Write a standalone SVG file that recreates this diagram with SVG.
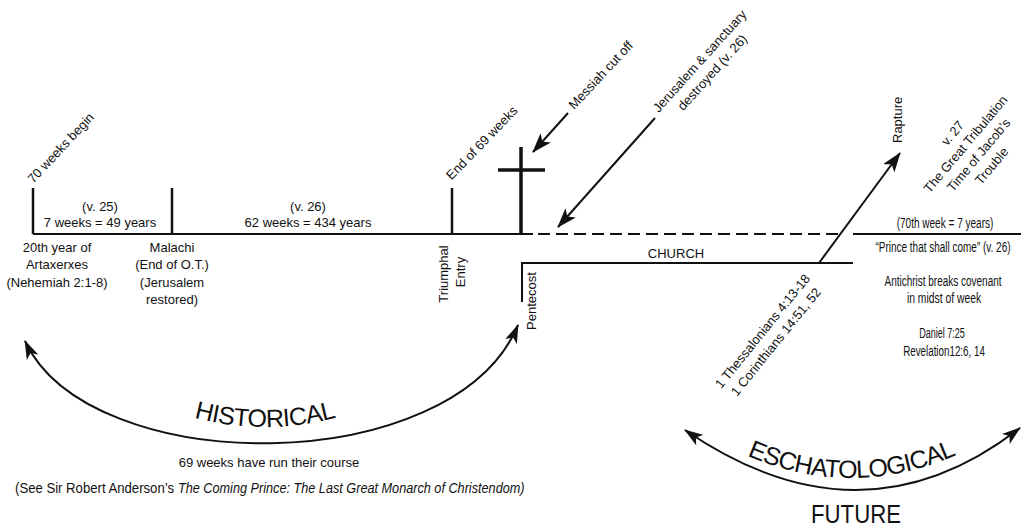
<svg xmlns="http://www.w3.org/2000/svg" width="1021" height="529" viewBox="0 0 1021 529">
<defs>
<style>
text{font-family:"Liberation Sans",Arial,sans-serif;font-size:13px;fill:#111}
.c{text-anchor:middle}
.n{font-family:"Liberation Sans Narrow","Liberation Sans",Arial,sans-serif;font-size:14px}
.big{font-size:25px}
.ln{stroke:#111;stroke-width:2;fill:none}
.tk{stroke:#111;stroke-width:2.5;fill:none}
.cr{stroke:#111;stroke-width:3.5;fill:none}
.ar{stroke:#111;stroke-width:2;fill:none;marker-end:url(#ah)}
.arc{stroke:#111;stroke-width:2;fill:none;marker-start:url(#ah2);marker-end:url(#ah2)}
</style>
<marker id="ah" viewBox="0 0 20 14" refX="19" refY="7" markerWidth="20" markerHeight="14" markerUnits="userSpaceOnUse" orient="auto"><path d="M0,0 L20,7 L0,14 L5,7 Z" fill="#111"/></marker>
<marker id="ah2" viewBox="0 0 18 12" refX="17" refY="6" markerWidth="19" markerHeight="13" markerUnits="userSpaceOnUse" orient="auto-start-reverse"><path d="M0,0 L18,6 L0,12 L4.5,6 Z" fill="#111"/></marker>
<path id="hp" d="M175,412 Q265,442 355,412"/>
<path id="ep" d="M725,445 Q850,511 978,445"/>
</defs>
<rect width="1021" height="529" fill="#fff"/>

<g id="connectors">
<line class="ln" x1="33" y1="234" x2="533" y2="234"/>
<line class="ln" x1="538" y1="234" x2="840" y2="234" stroke-dasharray="12 6"/>
<line class="ln" x1="853" y1="234" x2="1021" y2="234"/>
<polyline class="ln" points="522,302 522,263 853,263"/>
<line class="ar" x1="568" y1="113" x2="533" y2="152"/>
<line class="ar" x1="655" y1="118" x2="558" y2="227"/>
<line class="ar" x1="819" y1="263" x2="900" y2="153"/>
<path class="arc" d="M25,341 C90,480 453,480 518,325"/>
<path class="arc" d="M685,430 Q861.5,551 1020,428"/>
</g>

<g id="start-70-weeks">
<line class="tk" x1="33" y1="188" x2="33" y2="234"/>
<text transform="translate(64,151) rotate(-47)" class="c">70 weeks begin</text>
<text class="c" x="57" y="252">20th year of</text>
<text class="c" x="57" y="269">Artaxerxes</text>
<text class="c" x="57" y="287">(Nehemiah 2:1-8)</text>
</g>

<g id="seven-weeks">
<text class="c" x="100" y="211">(v. 25)</text>
<text class="c" x="100" y="227">7 weeks = 49 years</text>
</g>

<g id="malachi">
<line class="tk" x1="172" y1="188" x2="172" y2="234"/>
<text class="c" x="172" y="252">Malachi</text>
<text class="c" x="172" y="269">(End of O.T.)</text>
<text class="c" x="172" y="287">(Jerusalem</text>
<text class="c" x="172" y="304">restored)</text>
</g>

<g id="sixty-two-weeks">
<text class="c" x="308" y="211">(v. 26)</text>
<text class="c" x="308" y="227">62 weeks = 434 years</text>
</g>

<g id="end-69-weeks">
<line class="tk" x1="452" y1="188" x2="452" y2="234"/>
<text transform="translate(485,146) rotate(-46)" class="c">End of 69 weeks</text>
<text transform="translate(448,274) rotate(-90)" class="c">Triumphal</text>
<text transform="translate(465,272) rotate(-90)" class="c">Entry</text>
</g>

<g id="cross">
<line class="cr" x1="521" y1="147" x2="521" y2="234"/>
<line class="cr" x1="498" y1="170" x2="545" y2="170"/>
<text transform="translate(604,78) rotate(-47)" class="c">Messiah cut off</text>
</g>

<g id="jerusalem-destroyed">
<text transform="translate(703,64) rotate(-48)" class="c"><tspan x="0" dy="0">Jerusalem &amp; sanctuary</tspan><tspan x="0" dy="17">destroyed (v. 26)</tspan></text>
</g>

<g id="church">
<text class="c" x="676" y="258">CHURCH</text>
<text transform="translate(536,330) rotate(-90)">Pentecost</text>
</g>

<g id="rapture">
<text transform="translate(902,143) rotate(-90)">Rapture</text>
<text transform="translate(766,334) rotate(-51)" class="c"><tspan x="0" dy="0">1 Thessalonians 4:13-18</tspan><tspan x="0" dy="17">1 Corinthians 14:51, 52</tspan></text>
</g>

<g id="seventieth-week">
<text transform="translate(956,136) rotate(-50)" class="c"><tspan x="0" dy="0">v. 27</tspan><tspan x="0" dy="17">The Great Tribulation</tspan><tspan x="0" dy="17">Time of Jacob’s</tspan><tspan x="0" dy="17">Trouble</tspan></text>
<text class="c n" transform="translate(945,228) scale(0.75,1)" textLength="129" lengthAdjust="spacingAndGlyphs">(70th week = 7 years)</text>
<text class="c n" transform="translate(943,252) scale(0.75,1)" textLength="180" lengthAdjust="spacingAndGlyphs">“Prince that shall come” (v. 26)</text>
<text class="c n" transform="translate(943,286) scale(0.75,1)" textLength="156" lengthAdjust="spacingAndGlyphs">Antichrist breaks covenant</text>
<text class="c n" transform="translate(944,303) scale(0.75,1)" textLength="99" lengthAdjust="spacingAndGlyphs">in midst of week</text>
<text class="c n" transform="translate(942,338) scale(0.75,1)" textLength="61" lengthAdjust="spacingAndGlyphs">Daniel 7:25</text>
<text class="c n" transform="translate(944,356) scale(0.75,1)" textLength="109" lengthAdjust="spacingAndGlyphs">Revelation12:6, 14</text>
</g>

<g id="historical">
<text class="big" letter-spacing="-0.6"><textPath href="#hp" startOffset="50%" text-anchor="middle">HISTORICAL</textPath></text>
<text class="c" x="269" y="467">69 weeks have run their course</text>
<text class="n" transform="translate(15,493) scale(0.75,1)" textLength="212" lengthAdjust="spacingAndGlyphs">(See Sir Robert Anderson’s</text>
<text class="n" transform="translate(178,493) scale(0.75,1)" font-style="italic" textLength="462" lengthAdjust="spacingAndGlyphs">The Coming Prince: The Last Great Monarch of Christendom)</text>
</g>

<g id="eschatological">
<text class="big" letter-spacing="-0.85"><textPath href="#ep" startOffset="50%" text-anchor="middle">ESCHATOLOGICAL</textPath></text>
<text class="c big" x="856" y="523" textLength="90" lengthAdjust="spacingAndGlyphs">FUTURE</text>
</g>
</svg>
